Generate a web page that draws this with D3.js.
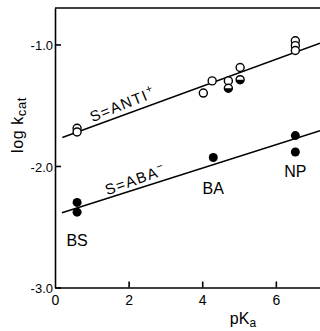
<!DOCTYPE html>
<html>
<head>
<meta charset="utf-8">
<script src="https://cdn.jsdelivr.net/npm/d3@7"></script>
<style>
  body { margin: 0; background: #fff; }
  svg { display: block; font-family: "Liberation Sans", Arial, sans-serif; }
</style>
</head>
<body>
<svg id="chart" width="320" height="331"></svg>
<script>
// open circles: S = ANTI+
const antiX = [0.6, 0.6, 4.03, 4.27, 4.71, 4.71, 5.03, 5.03, 6.53, 6.53, 6.53];
const antiY = [-1.69, -1.72, -1.40, -1.30, -1.30, -1.36, -1.19, -1.29, -0.97, -1.01, -1.05];
const antiHalf = [0, 0, 0, 0, 0, 1, 0, 1, 0, 0, 0];
// filled circles: S = ABA-
const abaX = [0.6, 0.6, 4.3, 6.53, 6.53];
const abaY = [-2.30, -2.38, -1.93, -1.75, -1.885];
// fitted lines (end points)
const antiFitX = [0.2, 7.2];
const antiFitY = [-1.765, -0.99];
const abaFitX = [0.19, 7.2];
const abaFitY = [-2.385, -1.71];
const compounds = ['BS', 'BA', 'NP'];
const compoundX = [0.6, 4.3, 6.53];
const compoundY = [-2.66, -2.23, -2.09];
const xTicks = [0, 2, 4, 6];
const yTicks = [-1.0, -2.0, -3.0];

const svg = d3.select('#chart');
const x = d3.scaleLinear().domain([0, 7.2]).range([55, 320]);
const y = d3.scaleLinear().domain([-3, -0.7]).range([287.5, 8]);

// axes
const yAxis = svg.append('g')
  .attr('transform', `translate(${x(0)},0)`)
  .call(d3.axisLeft(y).tickValues(yTicks).tickSizeInner(-6).tickSizeOuter(0)
    .tickPadding(2).tickFormat(d => d.toFixed(1)));
yAxis.selectAll('text').attr('font-size', 13).attr('fill', '#000').attr('dy', '0.4em');

const xAxis = svg.append('g')
  .attr('transform', `translate(0,${y(-3)})`)
  .call(d3.axisBottom(x).tickValues(xTicks).tickSizeInner(-6).tickSizeOuter(0)
    .tickPadding(8).tickFormat(d3.format('d')));
xAxis.selectAll('text').attr('font-size', 14).attr('fill', '#000');
xAxis.selectAll('.tick').filter(d => d === 0).select('line').remove();

svg.selectAll('.domain, .tick line').attr('stroke', '#000').attr('stroke-width', 1.6);

// top frame line
svg.append('line')
  .attr('x1', x(0)).attr('x2', x(7.2))
  .attr('y1', y(-0.7)).attr('y2', y(-0.7))
  .attr('stroke', '#000').attr('stroke-width', 1.6);

// fitted lines
const fits = [
  { xs: antiFitX, ys: antiFitY },
  { xs: abaFitX, ys: abaFitY }
];
svg.selectAll('.fit')
  .data(fits)
  .enter()
  .append('line')
  .attr('class', 'fit')
  .attr('x1', d => x(d.xs[0])).attr('y1', d => y(d.ys[0]))
  .attr('x2', d => x(d.xs[1])).attr('y2', d => y(d.ys[1]))
  .attr('stroke', '#000').attr('stroke-width', 1.5);

// line labels, rotated along the fits
function angle(xs, ys) {
  return Math.atan2(y(ys[1]) - y(ys[0]), x(xs[1]) - x(xs[0])) * 180 / Math.PI;
}
const lineLabels = [
  { t: 'S=ANTI', sup: '+', lx: 1.02, ly: -1.64, a: angle(antiFitX, antiFitY) - 2 },
  { t: 'S=ABA', sup: '\u2212', lx: 1.42, ly: -2.24, a: angle(abaFitX, abaFitY) - 2 }
];
lineLabels.forEach(l => {
  const txt = svg.append('text')
    .attr('transform', `translate(${x(l.lx)},${y(l.ly)}) rotate(${l.a})`)
    .attr('font-size', 15).attr('letter-spacing', 1.4).attr('fill', '#000')
    .text(l.t);
  txt.append('tspan').attr('dy', -6).attr('font-size', 11).text(l.sup);
});

// data points
const antiData = antiX.map((d, i) => ({ x: d, y: antiY[i], half: antiHalf[i] }));
const abaData = abaX.map((d, i) => ({ x: d, y: abaY[i] }));
const r = 4;

svg.selectAll('.open')
  .data(antiData)
  .enter()
  .append('circle')
  .attr('class', 'open')
  .attr('cx', d => x(d.x)).attr('cy', d => y(d.y)).attr('r', r)
  .attr('fill', '#fff').attr('stroke', '#000').attr('stroke-width', 1.4);

svg.selectAll('.half')
  .data(antiData.filter(d => d.half))
  .enter()
  .append('path')
  .attr('class', 'half')
  .attr('d', d => {
    const cx = x(d.x), cy = y(d.y);
    return `M${cx - r},${cy} A${r},${r} 0 0 0 ${cx + r},${cy} Z`;
  })
  .attr('fill', '#000');

svg.selectAll('.filled')
  .data(abaData)
  .enter()
  .append('circle')
  .attr('class', 'filled')
  .attr('cx', d => x(d.x)).attr('cy', d => y(d.y)).attr('r', r + 0.5)
  .attr('fill', '#000');

// compound labels
svg.selectAll('.cmp')
  .data(compounds)
  .enter()
  .append('text')
  .attr('class', 'cmp')
  .attr('x', (d, i) => x(compoundX[i]))
  .attr('y', (d, i) => y(compoundY[i]))
  .attr('text-anchor', 'middle')
  .attr('font-size', 16).attr('fill', '#000')
  .text(d => d);

// axis titles
const xt = svg.append('text')
  .attr('x', 243).attr('y', 324)
  .attr('text-anchor', 'middle')
  .attr('font-size', 16).attr('fill', '#000')
  .text('pK');
xt.append('tspan').attr('dy', 3).attr('font-size', 12).text('a');

const yt = svg.append('text')
  .attr('transform', 'translate(23,125) rotate(-90)')
  .attr('text-anchor', 'middle')
  .attr('font-size', 16).attr('letter-spacing', 0.6).attr('fill', '#000')
  .text('log  k');
yt.append('tspan').attr('dy', 3).attr('font-size', 13).text('cat');
</script>
</body>
</html>
